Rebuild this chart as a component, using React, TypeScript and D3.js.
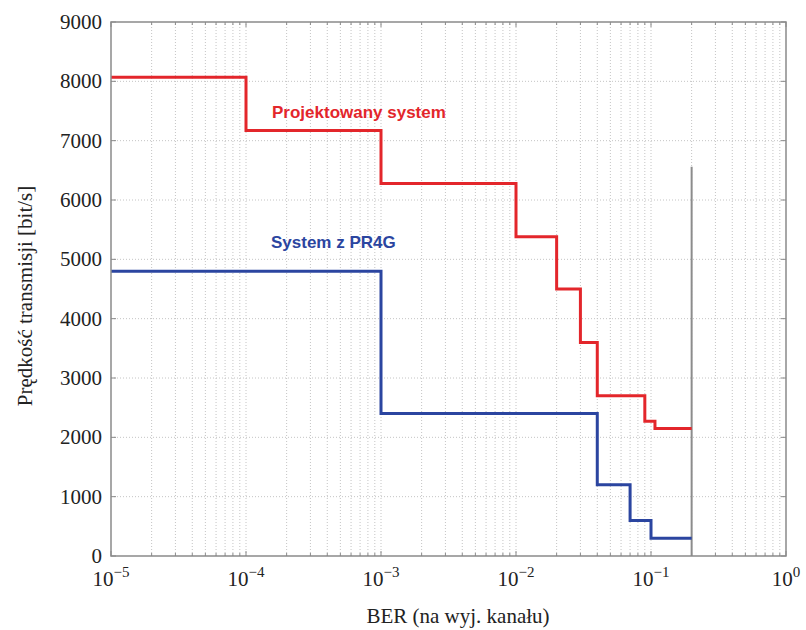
import React from "react";
import * as d3 from "d3";

const redBreaks = [1e-5, 1e-4, 1e-3, 1e-2, 0.02, 0.03, 0.04, 0.09, 0.107, 0.2];
const redValues = [8070, 7170, 6280, 5380, 4500, 3600, 2700, 2270, 2150];
const blueBreaks = [1e-5, 1e-3, 0.04, 0.07, 0.1, 0.2];
const blueValues = [4800, 2400, 1200, 600, 300];
const markerX = 0.2;
const markerTop = 6560;
const yTicks = [0, 1000, 2000, 3000, 4000, 5000, 6000, 7000, 8000, 9000];
const xExponents = [-5, -4, -3, -2, -1, 0];
const redLabel = "Projektowany system";
const blueLabel = "System z PR4G";
const xTitle = "BER (na wyj. kanału)";
const yTitle = "Prędkość transmisji [bit/s]";

const W = 806, H = 630;
const M = { left: 111, right: 20, top: 22, bottom: 74 };

export default function App() {
  const x = d3.scaleLog().domain([1e-5, 1]).range([M.left, W - M.right]);
  const y = d3.scaleLinear().domain([0, 9000]).range([H - M.bottom, M.top]);
  const x0 = M.left, x1 = W - M.right, y0 = H - M.bottom, y1 = M.top;

  const minor: number[] = [];
  for (let e = -5; e < 0; e++) for (let k = 2; k <= 9; k++) minor.push(k * Math.pow(10, e));
  const major = xExponents.map((e) => Math.pow(10, e));

  const toPts = (b: number[], v: number[]) => {
    const pts: [number, number][] = v.map((val, i) => [b[i], val]);
    pts.push([b[b.length - 1], v[v.length - 1]]);
    return pts;
  };
  const line = d3.line<[number, number]>().x((d) => x(d[0])).y((d) => y(d[1])).curve(d3.curveStepAfter);

  const serif = "'Liberation Serif', 'Times New Roman', serif";
  const sans = "'Liberation Sans', Arial, sans-serif";
  const grid = "#c4c4c4";
  const axis = "#8a8a8a";
  const tl = 5;

  return (
    <svg width={W} height={H} style={{ position: "absolute", left: 0, top: 0, background: "#fff" }}>
      <g stroke={grid} strokeWidth={1} strokeDasharray="1,2">
        {minor.concat(major.slice(1, -1)).map((v, i) => (
          <line key={"gx" + i} x1={x(v)} x2={x(v)} y1={y0} y2={y1} />
        ))}
        {yTicks.slice(1, -1).map((v) => (
          <line key={"gy" + v} x1={x0} x2={x1} y1={y(v)} y2={y(v)} />
        ))}
      </g>
      <g stroke={axis} strokeWidth={1}>
        {minor.map((v, i) => (
          <g key={"mt" + i}>
            <line x1={x(v)} x2={x(v)} y1={y0} y2={y0 - 3} />
            <line x1={x(v)} x2={x(v)} y1={y1} y2={y1 + 3} />
          </g>
        ))}
        {major.map((v, i) => (
          <g key={"Mt" + i}>
            <line x1={x(v)} x2={x(v)} y1={y0} y2={y0 - tl} />
            <line x1={x(v)} x2={x(v)} y1={y1} y2={y1 + tl} />
          </g>
        ))}
        {yTicks.map((v) => (
          <g key={"yt" + v}>
            <line x1={x0} x2={x0 + tl} y1={y(v)} y2={y(v)} />
            <line x1={x1} x2={x1 - tl} y1={y(v)} y2={y(v)} />
          </g>
        ))}
      </g>
      <line x1={x(markerX)} x2={x(markerX)} y1={y(0)} y2={y(markerTop)} stroke="#8c8c8c" strokeWidth={2} />
      <path d={line(toPts(redBreaks, redValues)) || ""} fill="none" stroke="#e3262b" strokeWidth={3} />
      <path d={line(toPts(blueBreaks, blueValues)) || ""} fill="none" stroke="#2b45a0" strokeWidth={3} />
      <rect x={x0} y={y1} width={x1 - x0} height={y0 - y1} fill="none" stroke={axis} strokeWidth={1.5} />
      <text x={272} y={118} fill="#e3262b" fontFamily={sans} fontWeight="bold" fontSize={17}>{redLabel}</text>
      <text x={271} y={248} fill="#2b45a0" fontFamily={sans} fontWeight="bold" fontSize={17}>{blueLabel}</text>
      <g fontFamily={serif} fontSize={21} fill="#222" textAnchor="end">
        {yTicks.map((v) => (
          <text key={"yl" + v} x={x0 - 9} y={y(v) + 7}>{v}</text>
        ))}
      </g>
      <g fontFamily={serif} fill="#222" textAnchor="middle">
        {xExponents.map((e) => (
          <text key={"xl" + e} x={x(Math.pow(10, e))} y={586} fontSize={21}>
            10<tspan dy={-9} fontSize={15}>{e < 0 ? "\u2212" + -e : String(e)}</tspan>
          </text>
        ))}
      </g>
      <text x={458} y={623} textAnchor="middle" fontFamily={serif} fontSize={21} fill="#222">{xTitle}</text>
      <text transform={`translate(32,296) rotate(-90)`} textAnchor="middle" fontFamily={serif} fontSize={21} fill="#222">{yTitle}</text>
    </svg>
  );
}
